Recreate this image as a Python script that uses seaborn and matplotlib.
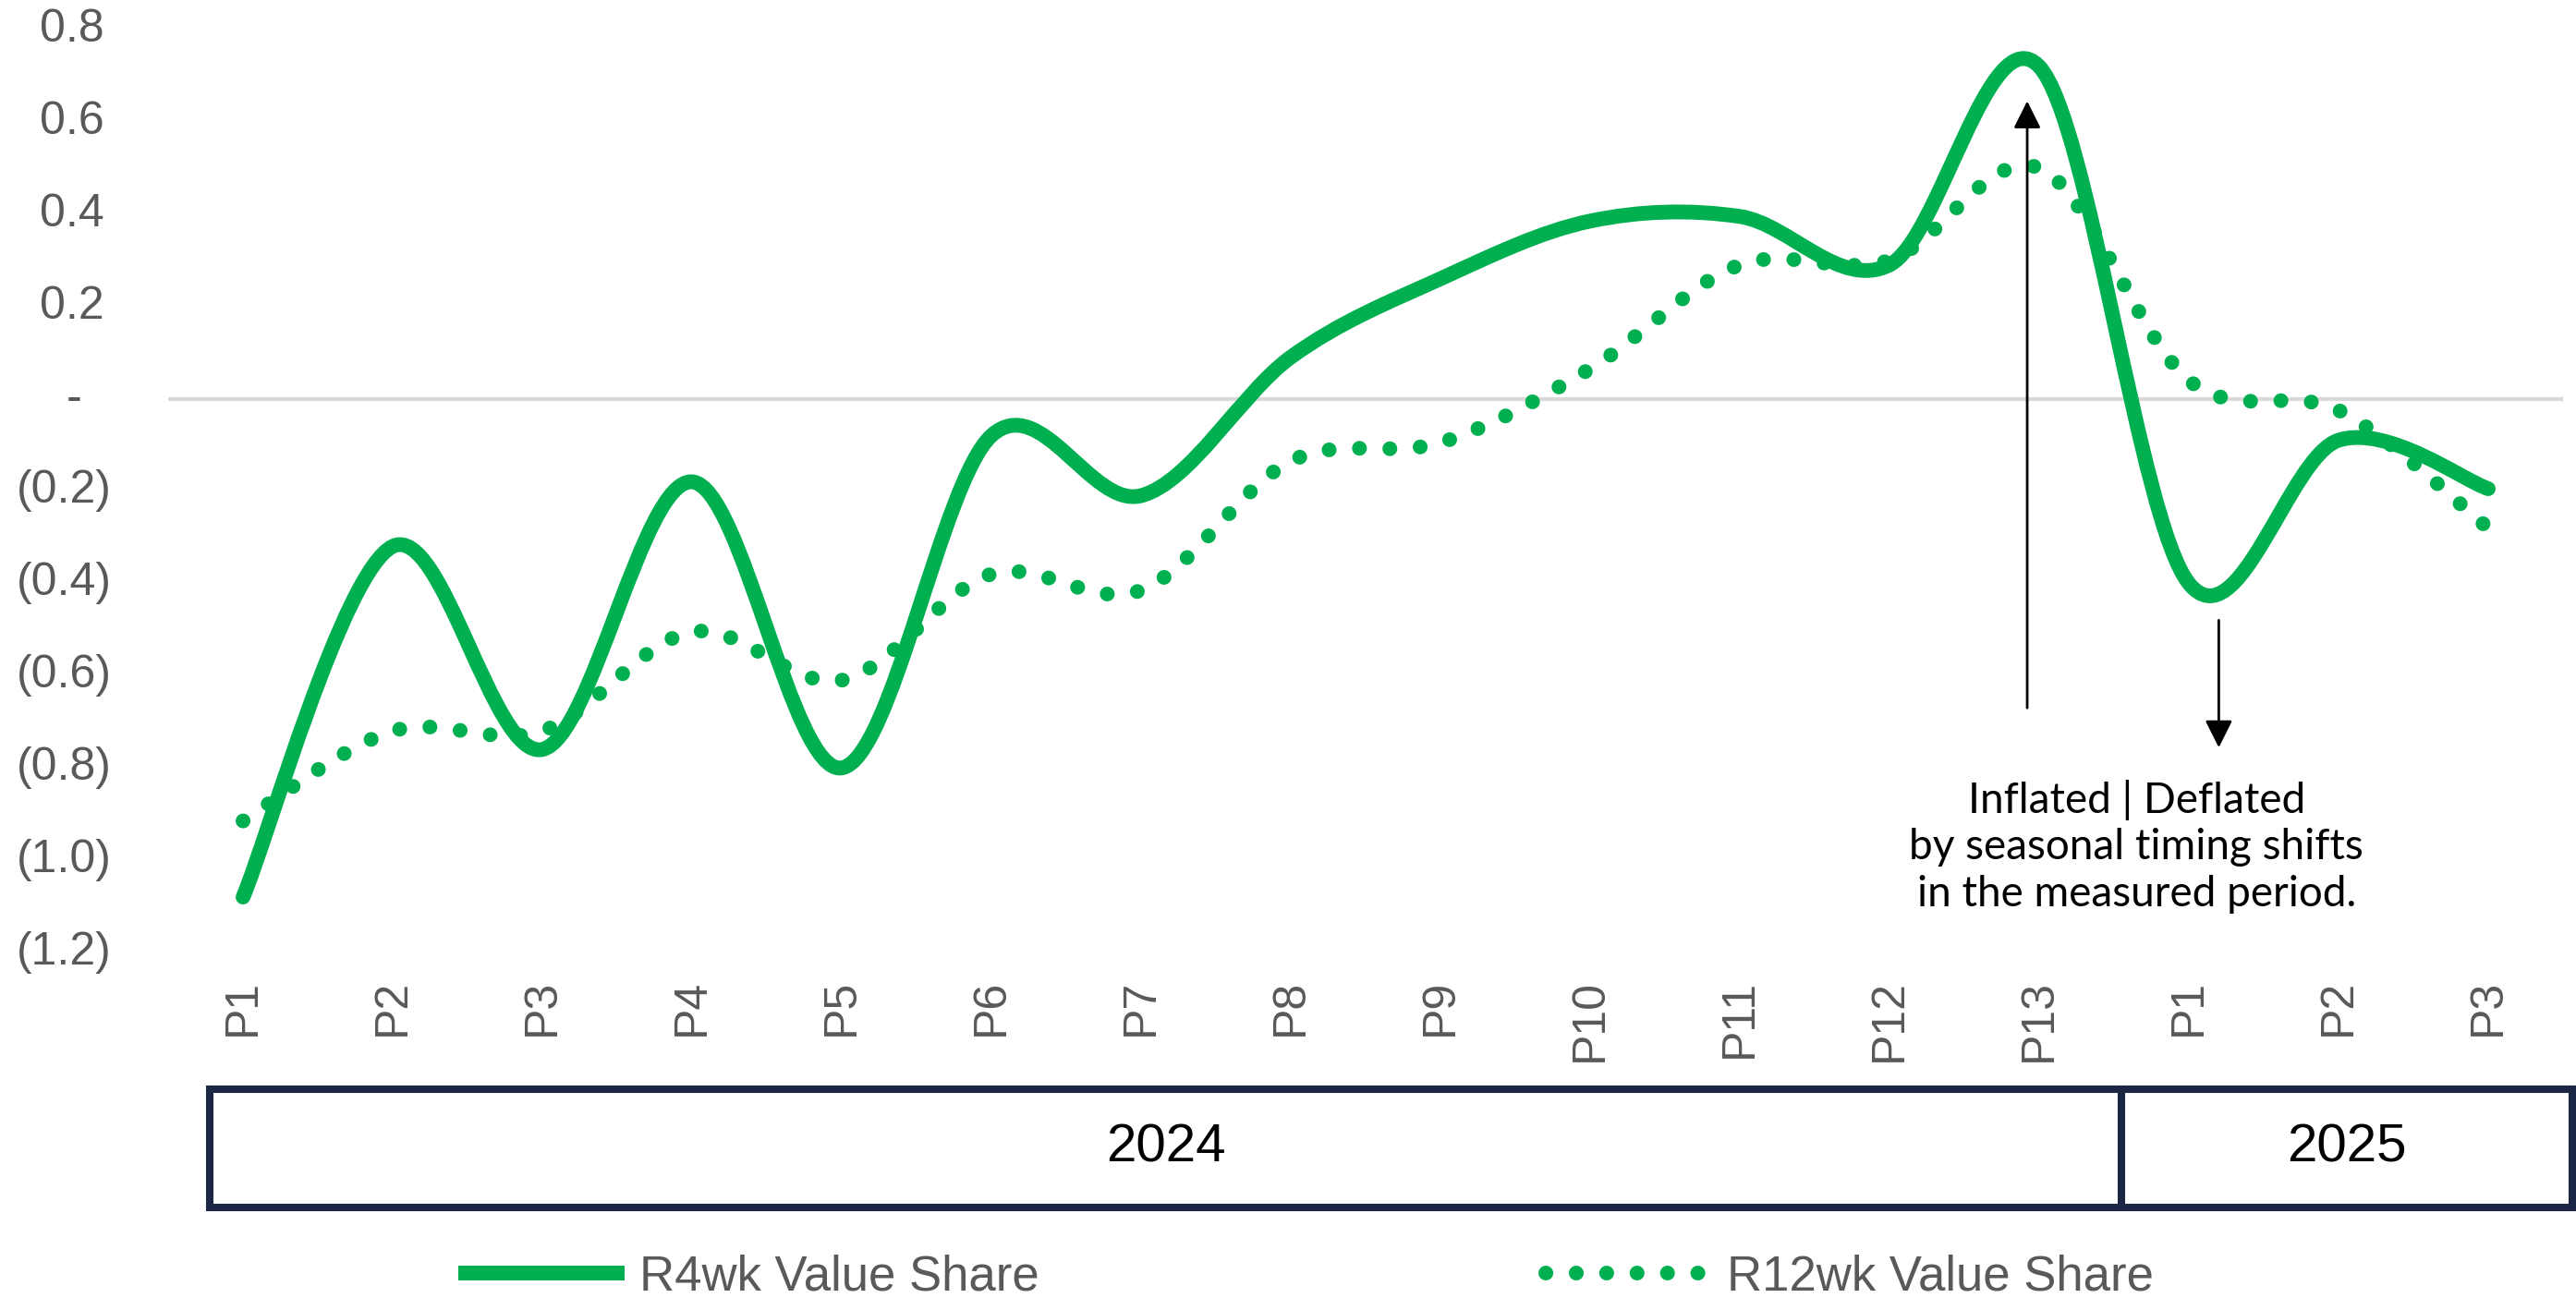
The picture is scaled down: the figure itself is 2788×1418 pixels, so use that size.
import matplotlib
matplotlib.use("Agg")
import matplotlib.pyplot as plt
import seaborn as sns
import numpy as np
from matplotlib.path import Path
from matplotlib.patches import PathPatch, Rectangle
from matplotlib.lines import Line2D

# values
periods = ["P1", "P2", "P3", "P4", "P5", "P6", "P7", "P8", "P9", "P10",
           "P11", "P12", "P13", "P1", "P2", "P3"]
r4wk = [-1.08, -0.32, -0.76, -0.18, -0.80, -0.08, -0.21, 0.09, 0.26, 0.385,
        0.395, 0.29, 0.72, -0.40, -0.09, -0.195]
r12wk = [-0.915, -0.72, -0.72, -0.505, -0.61, -0.38, -0.415, -0.135, -0.095, 0.065,
         0.29, 0.30, 0.50, 0.04, -0.025, -0.28]
years = ["2024", "2025"]
yticks = [0.8, 0.6, 0.4, 0.2, 0.0, -0.2, -0.4, -0.6, -0.8, -1.0, -1.2]
series_names = ["R4wk Value Share", "R12wk Value Share"]
note = "Inflated | Deflated\nby seasonal timing shifts\nin the measured period."

GREEN = "#00B050"
GREY_TXT = "#595959"
NAVY = "#1B2745"
LW = 11.5
DOTS = (0, (0.01, 2.05))

sns.set_theme(style="white")
plt.rcParams["font.family"] = ["Liberation Sans", "DejaVu Sans"]


def smooth_path(xs, ys):
    # Excel-style smoothed line: cubic Bezier through every point
    pts = np.column_stack([xs, ys]).astype(float)
    ext = np.vstack([pts[0], pts, pts[-1]])
    verts = [pts[0]]
    codes = [Path.MOVETO]
    for i in range(len(pts) - 1):
        p0, p1, p2, p3 = ext[i], ext[i + 1], ext[i + 2], ext[i + 3]
        verts += [p1 + (p2 - p0) / 6, p2 - (p3 - p1) / 6, p2]
        codes += [Path.CURVE4] * 3
    return Path(verts, codes)


fig = plt.figure(figsize=(27.88, 14.18), dpi=100)
ax = fig.add_axes([182 / 2788, 1 - 1031 / 1418, 2592 / 2788, 999 / 1418])
ax.set_xlim(-0.5, len(periods) - 0.5)
ax.set_ylim(-1.2, 0.8)
sns.despine(ax=ax, left=True, bottom=True)

ax.axhline(0, color="#D9D9D9", lw=3, zorder=1)

x = np.arange(len(periods))
ax.add_patch(PathPatch(smooth_path(x, r12wk), fill=False, edgecolor=GREEN, lw=LW,
                       linestyle=DOTS, capstyle="round", zorder=3))
ax.add_patch(PathPatch(smooth_path(x, r4wk), fill=False, edgecolor=GREEN, lw=LW,
                       capstyle="round", joinstyle="round", zorder=4))

# x tick labels
ax.set_xticks(x)
ax.set_xticklabels(periods, rotation=90, fontsize=36, color=GREY_TXT, va="top")
ax.tick_params(axis="x", length=0, pad=21)

# y tick labels in accounting style
ax.set_yticks(yticks)
ax.set_yticklabels([])
ax.tick_params(axis="y", length=0)
ytr = ax.get_yaxis_transform()
for v in yticks:
    if v > 0.001:
        lab, xa = f"{v:.1f}", -0.0266
    elif v < -0.001:
        lab, xa = f"({-v:.1f})", -0.0235
    else:
        lab, xa = "-", -0.0359
    ax.text(xa, v, lab, transform=ytr, ha="right", va="center",
            fontsize=36, color=GREY_TXT)

# year box below the axis
xtr = ax.get_xaxis_transform()
box_top, box_bot = -0.148, -0.276
edges = [-0.22, 12.55, 15.56]
for i, yr in enumerate(years):
    ax.add_patch(Rectangle((edges[i], box_bot), edges[i + 1] - edges[i], box_top - box_bot,
                           transform=xtr, fill=False, edgecolor=NAVY, lw=5.8,
                           clip_on=False, zorder=5))
    ax.text((edges[i] + edges[i + 1]) / 2, (box_top + box_bot) / 2, yr, transform=xtr,
            ha="center", va="center", fontsize=42, color="black")

# annotation
arrow = dict(arrowstyle="-|>,head_length=0.9,head_width=0.45", lw=2, color="black",
             mutation_scale=20, shrinkA=0, shrinkB=0)
ax.annotate("", xy=(11.92, 0.645), xytext=(11.92, -0.67), arrowprops=arrow)
ax.annotate("", xy=(13.2, -0.756), xytext=(13.2, -0.48), arrowprops=arrow)
ax.text(12.65, -0.97, note, ha="center", va="center", fontsize=33, family=["Lato", "DejaVu Sans"],
        linespacing=1.25, color="black")

# legend
handles = [
    Line2D([], [], color=GREEN, lw=LW, solid_capstyle="butt"),
    Line2D([], [], color=GREEN, lw=LW, linestyle=DOTS, dash_capstyle="round"),
]
leg = fig.legend(handles, series_names, loc="center", bbox_to_anchor=(0.507, 0.025),
                 ncol=2, frameon=False, fontsize=38, handlelength=3.4,
                 handletextpad=0.3, columnspacing=10.4)
for t in leg.get_texts():
    t.set_color(GREY_TXT)

fig.savefig("out.png", dpi=100)
